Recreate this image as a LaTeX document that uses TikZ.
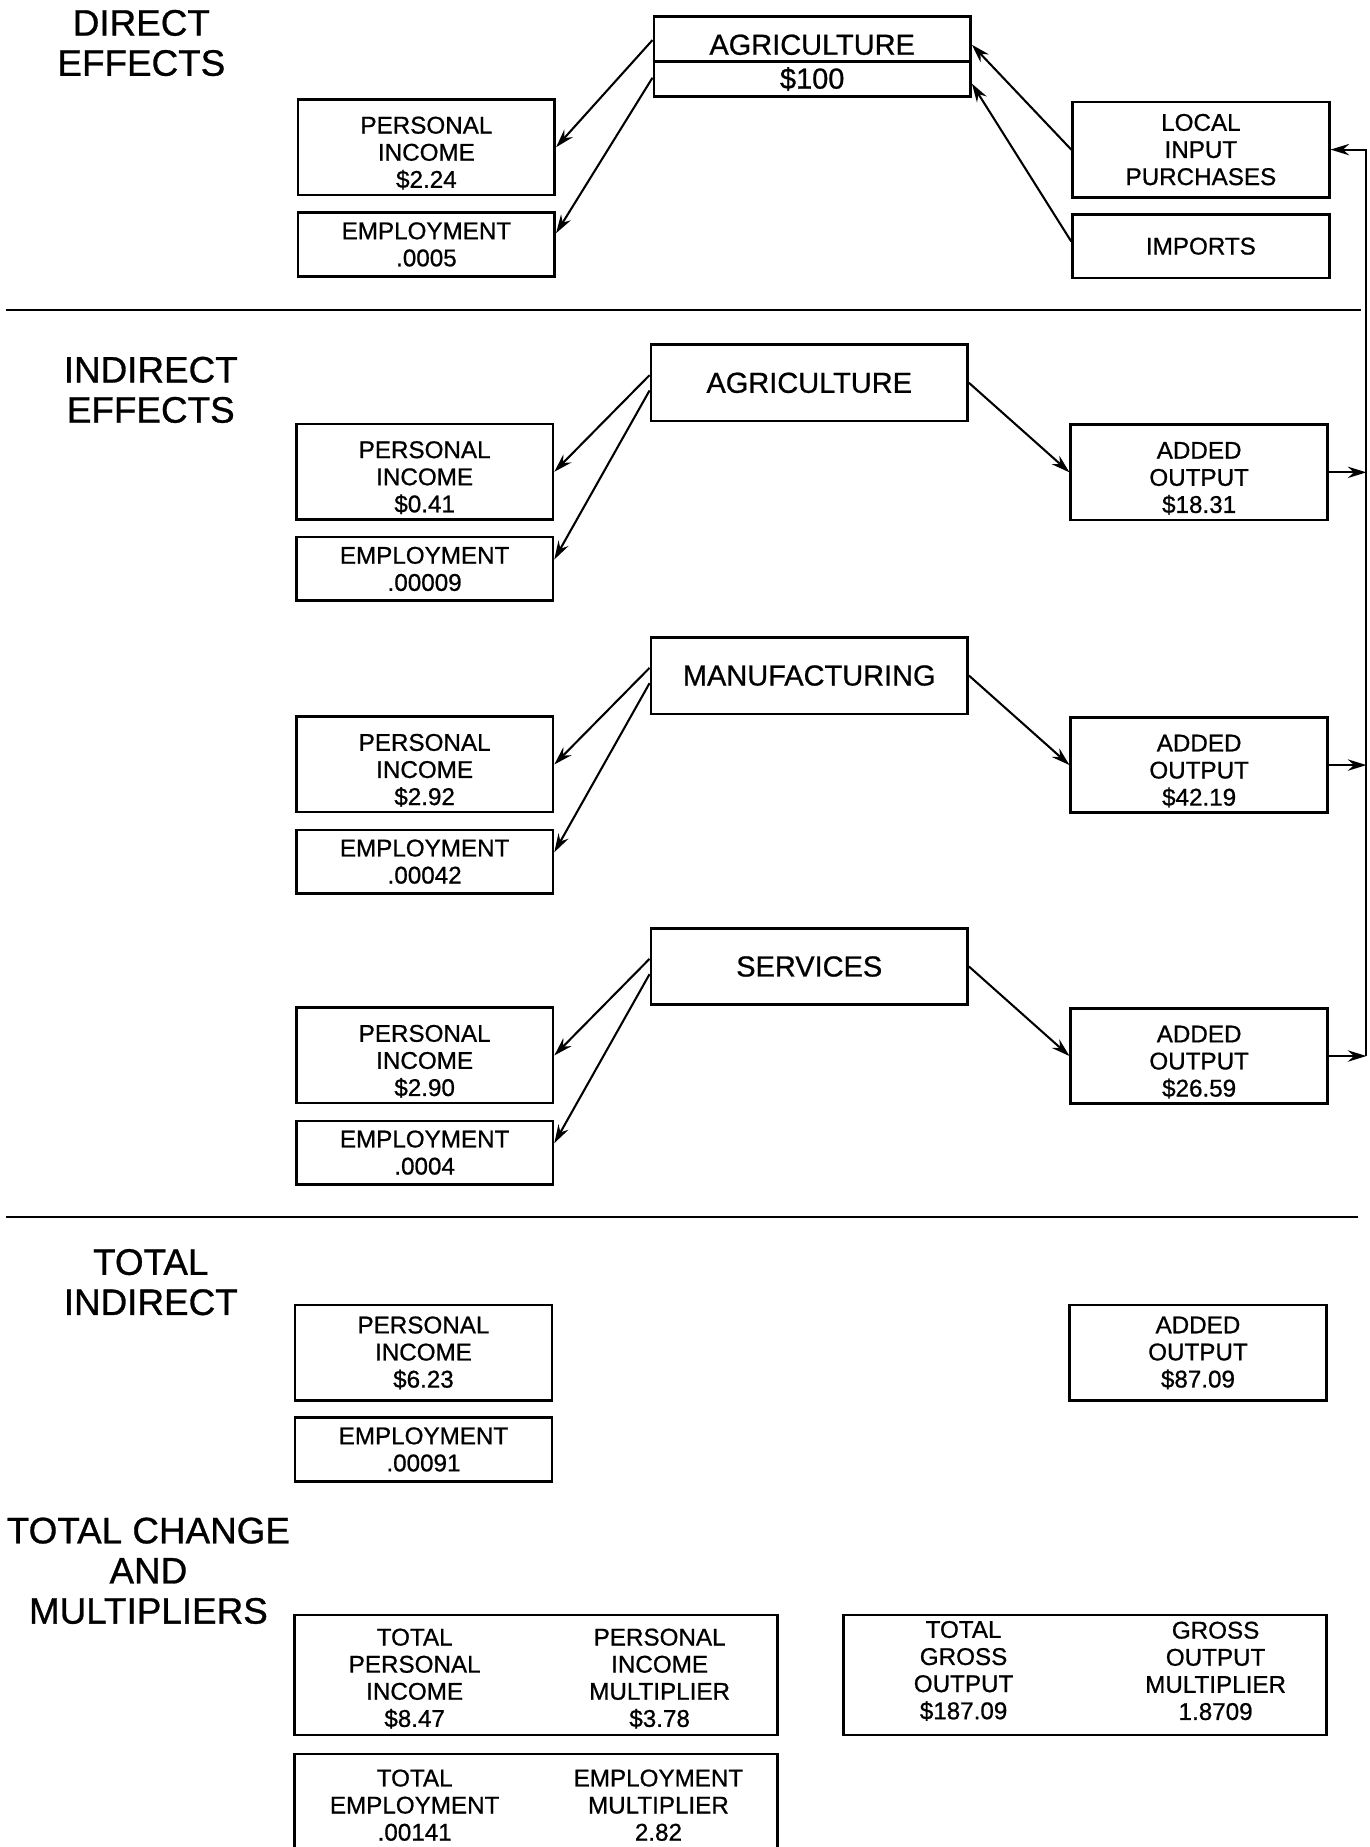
\documentclass[tikz,border=0pt]{standalone}
\usepackage{fontspec}
\setmainfont{Liberation Sans}[BoldFont=Liberation Sans,BoldFeatures={FakeBold=0.8}]
\usetikzlibrary{arrows.meta}

\begin{document}
\begin{tikzpicture}[x=0.02cm,y=-0.02cm,every node/.style={font=\bfseries},
    box/.style={draw,line width=1.25pt,align=center,inner sep=0pt,
        font=\bfseries\fontsize{11.7}{13.1}\selectfont},
    bigbox/.style={box,minimum width=4.36cm,minimum height=1.62cm},
    lowbox/.style={bigbox,text height=40pt},
    smallbox/.style={box,minimum width=4.36cm,minimum height=1.08cm},
    sector/.style={box,minimum width=5.38cm,minimum height=1.3cm,
        font=\bfseries\fontsize{14}{16.5}\selectfont},
    multbox/.style={box,minimum width=8.2cm,minimum height=2.04cm},
    coltext/.style={align=center,inner sep=0pt,font=\bfseries\fontsize{11.7}{13.1}\selectfont},
    sectortext/.style={inner sep=0pt,font=\bfseries\fontsize{14}{16.5}\selectfont},
    heading/.style={align=center,inner sep=0pt,font=\bfseries\fontsize{17.8}{19.4}\selectfont},
    arr/.style={-{Stealth[length=9pt,width=5.5pt,inset=3pt]},line width=1pt},
    rule/.style={line width=1.25pt}
]
\useasboundingbox (0,0) rectangle (1163,1568);

% direct effects
\node[heading] (hdirect) at (120,36.5) {DIRECT\\EFFECTS};
\node[sector,minimum height=1.36cm] (agri0) at (689.5,48) {};
\draw[rule] ([yshift=-0.08cm]agri0.west) -- ([yshift=-0.08cm]agri0.east);
\node[sectortext] (agri0-top) at ([yshift=0.2cm]agri0.center) {AGRICULTURE};
\node[sectortext] (agri0-bot) at ([yshift=-0.38cm]agri0.center) {\$100};
\node[lowbox] (pi0) at (362,125) {PERSONAL\\INCOME\\\$2.24};
\node[smallbox] (emp0) at (362,207.5) {EMPLOYMENT\\.0005};
\node[bigbox] (lip) at (1019.5,127) {LOCAL\\INPUT\\PURCHASES};
\node[smallbox] (imp) at (1019.5,209) {IMPORTS};
\draw[arr] ([yshift=0.28cm]agri0.west) -- (pi0.east);
\draw[arr] ([yshift=-0.36cm]agri0.west) -- ([yshift=0.19cm]emp0.east);
\draw[arr] (lip.west) -- ([yshift=0.2cm]agri0.east);
\draw[arr] ([yshift=0.08cm]imp.west) -- ([yshift=-0.46cm]agri0.east);
\draw[rule] (5,263) -- (1155,263);

% indirect effects
\node[heading] (hindirect) at (128,331) {INDIRECT\\EFFECTS};
\foreach \nm/\lab/\y/\inc/\emp/\out in {agri/AGRICULTURE/325/0.41/.00009/18.31,
    manu/MANUFACTURING/573.5/2.92/.00042/42.19,serv/SERVICES/820.5/2.90/.0004/26.59}{
  \node[sector] (\nm) at (687,\y) {\lab};
  \node[lowbox] (\nm-pi) at (360.5,\y+75.5) {PERSONAL\\INCOME\\\$\inc};
  \node[smallbox] (\nm-emp) at (360.5,\y+158) {EMPLOYMENT\\\emp};
  \node[lowbox] (\nm-ao) at (1018,\y+76) {ADDED\\OUTPUT\\\$\out};
  \draw[arr] ([yshift=0.13cm]\nm.west) -- (\nm-pi.east);
  \draw[arr] ([yshift=-0.13cm]\nm.west) -- ([yshift=0.16cm]\nm-emp.east);
  \draw[arr] (\nm.east) -- (\nm-ao.west);
}
\coordinate (fbx) at (1160,0);
\coordinate (fbtop) at (lip.east -| fbx);
\coordinate (fbbot) at (serv-ao.east -| fbx);
\draw[arr] (fbbot) -- (fbtop) -- (lip.east);
\foreach \nm in {agri,manu,serv}
  \draw[arr] (\nm-ao.east) -- (\nm-ao.east -| fbx);
\draw[rule] (5,1033) -- (1153,1033);

% totals
\node[heading] (htotal) at (128,1088.5) {TOTAL\\INDIRECT};
\node[bigbox] (pi4) at (359.5,1148.5) {PERSONAL\\INCOME\\\$6.23};
\node[smallbox] (emp4) at (359.5,1230.5) {EMPLOYMENT\\.00091};
\node[bigbox] (ao4) at (1017,1148.5) {ADDED\\OUTPUT\\\$87.09};

\node[heading] (hchange) at (126,1333.5) {TOTAL CHANGE\\AND\\MULTIPLIERS};
\node[multbox] (tpi) at (455,1422) {};
\node[coltext] (tpi-l) at ([xshift=-2.06cm,yshift=-0.06cm]tpi.center) {TOTAL\\PERSONAL\\INCOME\\\$8.47};
\node[coltext] (tpi-r) at ([xshift=2.1cm,yshift=-0.06cm]tpi.center) {PERSONAL\\INCOME\\MULTIPLIER\\\$3.78};
\node[multbox,minimum height=1.66cm] (temp) at (455,1530.5) {};
\node[coltext] (temp-l) at ([xshift=-2.06cm,yshift=-0.04cm]temp.center) {TOTAL\\EMPLOYMENT\\.00141};
\node[coltext] (temp-r) at ([xshift=2.08cm,yshift=-0.04cm]temp.center) {EMPLOYMENT\\MULTIPLIER\\2.82};
\node[multbox] (tgo) at (921,1422) {};
\node[coltext] (tgo-l) at ([xshift=-2.06cm,yshift=0.07cm]tgo.center) {TOTAL\\GROSS\\OUTPUT\\\$187.09};
\node[coltext] (tgo-r) at ([xshift=2.22cm,yshift=0.07cm]tgo.center) {GROSS\\OUTPUT\\MULTIPLIER\\1.8709};
\end{tikzpicture}
\end{document}
